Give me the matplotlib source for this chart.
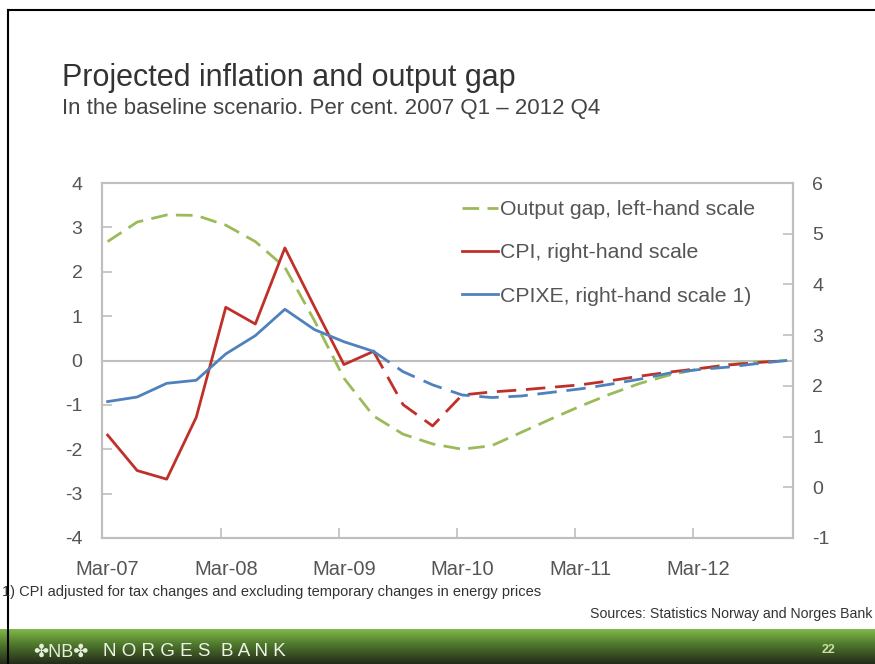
import matplotlib
matplotlib.use("Agg")
import matplotlib.pyplot as plt
import numpy as np
from matplotlib.lines import Line2D

plt.rcParams['font.family'] = ['Liberation Sans', 'DejaVu Sans']

# ---------------- data ----------------
x_labels = ["Mar-07", "Mar-08", "Mar-09", "Mar-10", "Mar-11", "Mar-12"]

# quarterly, 2007 Q1 - 2012 Q4 (24 quarters), left-hand scale
output_gap = [2.68, 3.12, 3.28, 3.27, 3.05, 2.68, 2.10, 0.90, -0.40, -1.25,
              -1.66, -1.88, -2.00, -1.92, -1.62, -1.32, -1.03, -0.76, -0.52,
              -0.33, -0.19, -0.09, -0.03, 0.00]

# CPI, right-hand scale: actual 2007 Q1 - 2009 Q2, projection 2009 Q2 - 2012 Q4
cpi_actual = [1.03, 0.33, 0.16, 1.38, 3.55, 3.22, 4.72, 3.56, 2.42, 2.68]
cpi_proj = [2.68, 1.63, 1.21, 1.82, 1.88, 1.92, 1.97, 2.02, 2.10, 2.19,
            2.27, 2.34, 2.41, 2.46, 2.50]

# CPIXE, right-hand scale
cpixe_actual = [1.69, 1.78, 2.05, 2.11, 2.63, 2.99, 3.51, 3.11, 2.87, 2.68]
cpixe_proj = [2.68, 2.28, 2.02, 1.82, 1.77, 1.80, 1.87, 1.94, 2.03, 2.13,
              2.25, 2.32, 2.37, 2.44, 2.50]

left_ticks = [-4, -3, -2, -1, 0, 1, 2, 3, 4]
right_ticks = [-1, 0, 1, 2, 3, 4, 5, 6]

legend_labels = ["Output gap, left-hand scale", "CPI, right-hand scale",
                 "CPIXE, right-hand scale 1)"]

# ---------------- style ----------------
GREEN = "#9BBB59"
RED = "#C0302A"
BLUE = "#4F81BD"
AXGREY = "#BFBFBF"
TXT = "#555555"

W, H = 875, 664
fig = plt.figure(figsize=(W / 100, H / 100), dpi=100)
fig.patch.set_facecolor("white")

ax = fig.add_axes([102 / W, 1 - 538 / H, (793 - 102) / W, (538 - 183) / H])
ax2 = ax.twinx()

n = len(output_gap)
x = np.arange(n)
na = len(cpi_actual)
xs = x[na - 1:]

g, = ax.plot(x, output_gap, color=GREEN, lw=2.0, dashes=(6, 3))
ax.axhline(0, color=AXGREY, lw=1.5, zorder=0)

r, = ax2.plot(x[:na], cpi_actual, color=RED, lw=2.0)
ax2.plot(xs, cpi_proj, color=RED, lw=2.0, dashes=(7, 3.5))
b, = ax2.plot(x[:len(cpixe_actual)], cpixe_actual, color=BLUE, lw=2.0)
ax2.plot(xs, cpixe_proj, color=BLUE, lw=2.0, dashes=(7, 3.5))

ax.set_xlim(-0.19, 23.2)
ax.set_ylim(-4, 4)
ax2.set_ylim(-1, 6)
ax.set_yticks(left_ticks)
ax.set_yticklabels([str(v) for v in left_ticks])
ax2.set_yticks(right_ticks)
ax2.set_yticklabels([str(v) for v in right_ticks])

ax.set_xticks(x[::4])
ax.set_xticklabels(x_labels)
ax.set_xticks(x[4::4] - 0.17, minor=True)
ax.tick_params(axis="x", which="major", length=0, pad=16, labelsize=14.5,
               labelcolor=TXT)
ax.tick_params(axis="x", which="minor", direction="in", length=7,
               color=AXGREY, width=1.2)
ax.tick_params(axis="y", direction="in", length=7, color=AXGREY, width=1.2,
               pad=14, labelsize=14, labelcolor=TXT)
ax2.tick_params(axis="y", direction="in", length=7, color=AXGREY, width=1.2,
                pad=14, labelsize=14, labelcolor=TXT)

for a in (ax, ax2):
    for s in a.spines.values():
        s.set_color(AXGREY)
        s.set_linewidth(1.5)

leg = ax2.legend([g, r, b], legend_labels, loc="upper left",
                 bbox_to_anchor=(462 / W, 1 - 200 / H),
                 bbox_transform=fig.transFigure, frameon=False,
                 fontsize=15.3, handlelength=1.7, handletextpad=0.1,
                 labelspacing=1.15, borderaxespad=0, borderpad=0)
for t in leg.get_texts():
    t.set_color(TXT)

# ---------------- titles / notes ----------------
fig.text(62 / W, 1 - 86 / H, "Projected inflation and output gap",
         fontsize=22, color="#333333", va="baseline")
fig.text(62 / W, 1 - 114 / H,
         "In the baseline scenario. Per cent. 2007 Q1 \u2013 2012 Q4",
         fontsize=16, color="#444444", va="baseline")
fig.text(2 / W, 1 - 592 / H,
         "1) CPI adjusted for tax changes and excluding temporary changes in energy prices",
         fontsize=10.5, color="#333333", va="center")
fig.text(872 / W, 1 - 614 / H, "Sources: Statistics Norway and Norges Bank",
         fontsize=10.2, color="#333333", va="center", ha="right")

# ---------------- banner ----------------
axb = fig.add_axes([0, 0, 1, 35 / H])
top = np.array([128, 184, 72]) / 255
mid = np.array([78, 118, 44]) / 255
bot = np.array([36, 44, 26]) / 255
tt = np.linspace(0, 1, 60)[:, None]
grad = np.where(tt < 0.45, top + (mid - top) * (tt / 0.45),
                mid + (bot - mid) * ((tt - 0.45) / 0.55))
axb.imshow(grad[:, None, :].repeat(2, axis=1), aspect="auto",
           extent=[0, 1, 0, 1])
axb.set_axis_off()

fig.text(33 / W, 1 - 652 / H, "\u2724NB\u2724", fontsize=13,
         color="#E6EEDC", va="center", ha="left",
         family=["Liberation Sans", "DejaVu Sans"])
fig.text(103 / W, 1 - 652 / H, "N O R G E S  B A N K", fontsize=13.5,
         color="#EEF3E8", va="center", ha="left")
fig.text(828 / W, 1 - 650 / H, "22", fontsize=9, color="#C8E0A0",
         va="center", ha="center", weight="bold")

# ---------------- frame ----------------
fig.add_artist(Line2D([8 / W, 8 / W], [0, 1 - 10 / H],
                      transform=fig.transFigure, color="black", lw=1.5))
fig.add_artist(Line2D([8 / W, 1], [1 - 10 / H, 1 - 10 / H],
                      transform=fig.transFigure, color="black", lw=1.5))

fig.savefig("out.png", dpi=100)
